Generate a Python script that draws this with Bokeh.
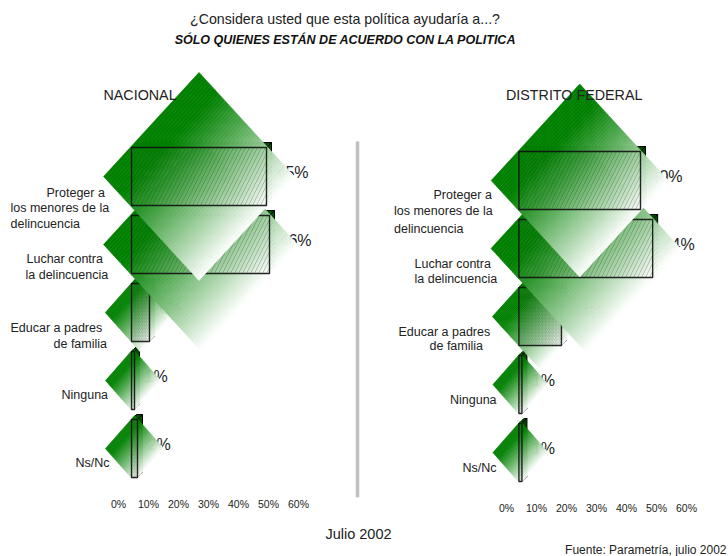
from bokeh.core.properties import value
from bokeh.embed import file_html
from bokeh.layouts import column, row
from bokeh.models import ColumnDataSource, LinearAxis, PrintfTickFormatter, Range1d, FixedTicker
from bokeh.plotting import figure
from bokeh.resources import INLINE

# Survey results, percent of respondents
CATEGORIES = ["Proteger a los menores de la delincuencia", "Luchar contra la delincuencia",
              "Educar a padres de familia", "Ninguna", "Ns/Nc"]
NACIONAL = [45, 46, 6, 1, 2]
DISTRITO_FEDERAL = [40, 44, 14, 1, 1]
TICKS = [0, 10, 20, 30, 40, 50, 60]

TITLE_1 = "¿Considera usted que esta política ayudaría a...?"
TITLE_2 = "SÓLO QUIENES ESTÁN DE ACUERDO CON LA POLITICA"
DATE_NOTE = "Julio 2002"
SOURCE_NOTE = "Fuente: Parametría, julio 2002"

# Category captions are broken over several lines: (text, left edge px, middle px)
CAPTIONS_NAC = [("Proteger a", 46, 192), ("los menores de la", 10, 207), ("delincuencia", 10, 223),
                ("Luchar contra", 26, 258), ("la delincuencia", 25, 274),
                ("Educar a padres", 10, 327), ("de familia", 53, 343),
                ("Ninguna", 61, 394), ("Ns/Nc", 75, 462)]
CAPTIONS_DF = [("Proteger a", 433, 194), ("los menores de la", 393.5, 210), ("delincuencia", 393.5, 228),
               ("Luchar contra", 414, 263), ("la delincuencia", 414, 278),
               ("Educar a padres", 398, 331), ("de familia", 429, 345),
               ("Ninguna", 449.5, 399), ("Ns/Nc", 462, 467)]

FONT = "Liberation Sans"
HEADER_H = 64
FOOTER_TOP = 522
TOTAL_H = 556
FRAME_BOTTOM = 497
SPLIT_X = 393
STRIPS = 48
BAR_H = 58
DEPTH = 5


def strip_color(t):
    """Solid green first, then a fade towards white."""
    k = max(0.0, (t - 0.18) / 0.82) ** 1.1
    return "#%02x%02x%02x" % (round(255 * k), round(128 + 127 * k), round(255 * k))


def panel(name, values, captions, frame_left, frame_right, zero_px, px_per_pct,
          tick_zero_px, first_row_px, standoff, title_px):
    width = frame_right - frame_left
    h = FOOTER_TOP - HEADER_H
    x0 = (frame_left - zero_px) / px_per_pct
    x1 = (frame_right - zero_px) / px_per_pct
    step = 68.0
    y_bottom = (FRAME_BOTTOM - first_row_px) / step
    y_top = (HEADER_H - first_row_px) / step

    p = figure(width=width, height=h, x_range=Range1d(x0, x1), y_range=Range1d(y_bottom, y_top),
               output_backend="svg", toolbar_location=None, x_axis_location=None, y_axis_location=None,
               min_border_left=0, min_border_right=0, min_border_top=0,
               min_border_bottom=FOOTER_TOP - FRAME_BOTTOM, outline_line_color=None,
               background_fill_color="white", border_fill_color="white")
    p.grid.visible = False

    # The percent scale is printed a little to the left of the bars' origin
    p.extra_x_ranges["scale"] = Range1d((frame_left - tick_zero_px) / 3.0, (frame_right - tick_zero_px) / 3.0)
    axis = LinearAxis(x_range_name="scale", ticker=FixedTicker(ticks=TICKS),
                      formatter=PrintfTickFormatter(format="%d%%"),
                      axis_line_color=None, major_tick_line_color=None, minor_tick_line_color=None,
                      major_tick_out=0, major_tick_in=0,
                      major_label_text_font=FONT, major_label_text_font_size="10.5px",
                      major_label_text_color="#222222", major_label_standoff=standoff)
    p.add_layout(axis, "below")

    fx = lambda px: (px - zero_px) / px_per_pct
    fy = lambda px: (px - first_row_px) / step

    p.text(x=[fx(c[1]) for c in captions], y=[fy(c[2]) for c in captions], text=[c[0] for c in captions],
           text_font=value(FONT), text_font_size="12.5px", text_color="#222222",
           text_baseline="middle", text_align="left")

    # Lower rows first, since each row's diamond lies over the row beneath it
    for i in reversed(range(len(values))):
        v = values[i]
        top = i - BAR_H / 2 / step
        bottom = i + BAR_H / 2 / step
        dx = DEPTH / px_per_pct
        dy = DEPTH / step

        p.text(x=[v], y=[i], text=[f"{v}%"], x_offset=[10], y_offset=[-4],
               text_font=value(FONT), text_font_size="16px", text_color="#222222",
               text_baseline="middle", text_align="left")

        # Depth faces of the bar
        p.patches(xs=[[0, v, v + dx, dx], [v, v + dx, v + dx, v]],
                  ys=[[top, top, top - dy, top - dy], [top, top - dy, bottom - dy, bottom]],
                  fill_color="#004b00", line_color="black", line_width=1)

        # Diamond shaded from its upper-left side to its lower-right side;
        # it always reaches the bar's corners
        w_px = v * px_per_pct
        a = (w_px + BAR_H) / 2
        ax_px = 1.03 * a - 4
        ay_px = max(1.13 * a - 5, (BAR_H / 2) / (1 - (w_px / 2) / ax_px) + 0.5)
        ax = ax_px / px_per_pct
        ay = ay_px / step
        cx = v / 2
        xs, ys, colors = [], [], []
        for s in range(STRIPS):
            t0 = s / STRIPS
            t1 = (s + 1) / STRIPS
            xa0, ya0 = cx - ax + t0 * ax, i + t0 * ay
            xb0, yb0 = cx + t0 * ax, i - ay + t0 * ay
            xa1, ya1 = cx - ax + t1 * ax, i + t1 * ay
            xb1, yb1 = cx + t1 * ax, i - ay + t1 * ay
            xs.append([xa0, xb0, xb1, xa1])
            ys.append([ya0, yb0, yb1, ya1])
            colors.append(strip_color((s + 0.5) / STRIPS))
        src = ColumnDataSource(dict(xs=xs, ys=ys, c=colors))
        p.patches(xs="xs", ys="ys", fill_color="c", line_color="c", line_width=0.6, source=src)

        # Front face: hatching and outline
        hatch = 8 if w_px > 60 else 3.5
        p.hbar(y=[i], left=[0], right=[v], height=BAR_H / step, fill_alpha=0,
               line_color="#111111", line_width=1.4, line_alpha=0.9,
               hatch_pattern="right_diagonal_line", hatch_color="#333333", hatch_alpha=0.45,
               hatch_scale=hatch, hatch_weight=0.6)

    p.text(x=[fx(title_px)], y=[fy(94)], text=[name], text_font=value(FONT), text_font_size="14.3px",
           text_color="#222222", text_baseline="middle", text_align="left")
    return p


left = panel("NACIONAL", NACIONAL, CAPTIONS_NAC, 0, SPLIT_X, 131, 3.0, 118, 176, 0, 103)
right = panel("DISTRITO FEDERAL", DISTRITO_FEDERAL, CAPTIONS_DF, SPLIT_X, 728, 518.4, 3.04, 506, 180, 4, 505.5)

# Vertical rule between the two panels
left.segment(x0=[(357 - 131) / 3.0], x1=[(357 - 131) / 3.0], y0=[(141 - 176) / 68.0], y1=[(497 - 176) / 68.0],
             line_color="#c0c0c0", line_width=3.5)


def text_strip(height, y_offset):
    """A bare figure measured in page pixels, used for the lines of text above and below the panels."""
    f = figure(width=728, height=height, x_range=Range1d(0, 728),
               y_range=Range1d(y_offset + height, y_offset),
               output_backend="svg", toolbar_location=None, x_axis_location=None, y_axis_location=None,
               min_border=0, outline_line_color=None)
    f.grid.visible = False
    return f


header = text_strip(HEADER_H, 0)
header.text(x=[344.5], y=[18], text=[TITLE_1], text_font=value(FONT), text_font_size="14.2px",
            text_color="#222222", text_align="center", text_baseline="middle")
header.text(x=[345], y=[39], text=[TITLE_2], text_font=value(FONT), text_font_size="12.5px",
            text_font_style="bold italic", text_color="#111111", text_align="center", text_baseline="middle")

footer = text_strip(TOTAL_H - FOOTER_TOP, FOOTER_TOP)
footer.text(x=[358], y=[533], text=[DATE_NOTE], text_font=value(FONT), text_font_size="14.5px",
            text_color="#222222", text_align="center", text_baseline="middle")
footer.text(x=[726], y=[549], text=[SOURCE_NOTE], text_font=value(FONT), text_font_size="12px",
            text_color="#222222", text_align="right", text_baseline="middle")

page = column(header, row(left, right, spacing=0), footer, spacing=0)
open("out.html", "w").write(file_html(page, INLINE))
